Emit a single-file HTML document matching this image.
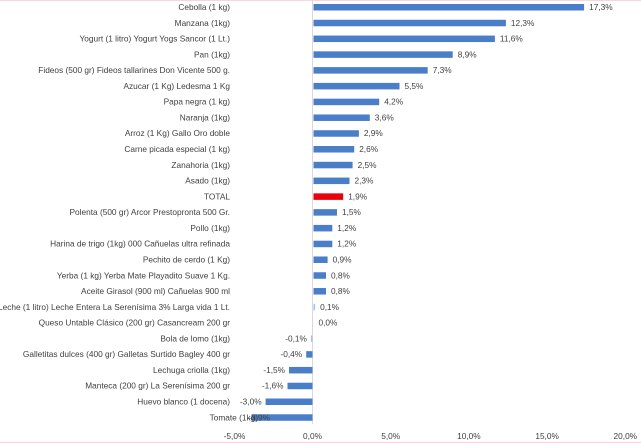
<!DOCTYPE html>
<html><head><meta charset="utf-8"><style>
html,body{margin:0;padding:0;background:#fff;}
svg{display:block;}
text{font-family:"Liberation Sans",sans-serif;font-size:8.3px;fill:#404040;}
</style></head><body>
<svg width="641" height="443" viewBox="0 0 641 443" xmlns="http://www.w3.org/2000/svg">
<line x1="0" y1="0.5" x2="641" y2="0.5" stroke="#f6d6dc" stroke-width="1"/>
<line x1="0" y1="442.5" x2="641" y2="442.5" stroke="#f6d6dc" stroke-width="1"/>
<line x1="312.5" y1="0" x2="312.5" y2="424" stroke="#d9d9d9" stroke-width="1"/>
<g fill="#4a7ec9">
<rect x="313.5" y="4" width="270.6" height="6.5"/>
<rect x="313.5" y="19.78" width="192.4" height="6.5"/>
<rect x="313.5" y="35.56" width="181.4" height="6.5"/>
<rect x="313.5" y="51.34" width="139.2" height="6.5"/>
<rect x="313.5" y="67.12" width="114.2" height="6.5"/>
<rect x="313.5" y="82.9" width="86.0" height="6.5"/>
<rect x="313.5" y="98.68" width="65.7" height="6.5"/>
<rect x="313.5" y="114.46" width="56.3" height="6.5"/>
<rect x="313.5" y="130.24" width="45.4" height="6.5"/>
<rect x="313.5" y="146.02" width="40.7" height="6.5"/>
<rect x="313.5" y="161.8" width="39.1" height="6.5"/>
<rect x="313.5" y="177.58" width="36.0" height="6.5"/>
<rect x="313.5" y="193.36" width="29.7" height="6.5" fill="#e8000b"/>
<rect x="313.5" y="209.14" width="23.5" height="6.5"/>
<rect x="313.5" y="224.92" width="18.8" height="6.5"/>
<rect x="313.5" y="240.7" width="18.8" height="6.5"/>
<rect x="313.5" y="256.48" width="14.1" height="6.5"/>
<rect x="313.5" y="272.26" width="12.5" height="6.5"/>
<rect x="313.5" y="288.04" width="12.5" height="6.5"/>
<rect x="313.5" y="303.82" width="1.6" height="6.5" fill="#a9c1e6"/>
<rect x="310.9" y="335.38" width="1.6" height="6.5" fill="#a9c1e6"/>
<rect x="306.2" y="351.16" width="6.3" height="6.5"/>
<rect x="289" y="366.94" width="23.5" height="6.5"/>
<rect x="287.5" y="382.72" width="25.0" height="6.5"/>
<rect x="265.6" y="398.5" width="46.9" height="6.5"/>
<rect x="251.5" y="414.28" width="61.0" height="6.5"/>
</g>
<g text-anchor="end">
<text x="230" y="10">Cebolla (1 kg)</text>
<text x="230" y="25.78">Manzana (1kg)</text>
<text x="230" y="41.56">Yogurt (1 litro) Yogurt Yogs Sancor (1 Lt.)</text>
<text x="230" y="57.34">Pan (1kg)</text>
<text x="230" y="73.12">Fideos (500 gr) Fideos tallarines Don Vicente 500 g.</text>
<text x="230" y="88.9">Azucar (1 Kg) Ledesma 1 Kg</text>
<text x="230" y="104.68">Papa negra (1 kg)</text>
<text x="230" y="120.46">Naranja (1kg)</text>
<text x="230" y="136.24">Arroz (1 Kg) Gallo Oro doble</text>
<text x="230" y="152.02">Carne picada especial (1 kg)</text>
<text x="230" y="167.8">Zanahoria (1kg)</text>
<text x="230" y="183.58">Asado (1kg)</text>
<text x="230" y="199.36">TOTAL</text>
<text x="230" y="215.14">Polenta (500 gr) Arcor Prestopronta 500 Gr.</text>
<text x="230" y="230.92">Pollo (1kg)</text>
<text x="230" y="246.7">Harina de trigo (1kg) 000 Cañuelas ultra refinada</text>
<text x="230" y="262.48">Pechito de cerdo (1 Kg)</text>
<text x="230" y="278.26">Yerba (1 kg) Yerba Mate Playadito Suave 1 Kg.</text>
<text x="230" y="294.04">Aceite Girasol (900 ml) Cañuelas 900 ml</text>
<text x="230" y="309.82">Leche (1 litro) Leche Entera La Serenísima 3% Larga vida 1 Lt.</text>
<text x="230" y="325.6">Queso Untable Clásico (200 gr) Casancream 200 gr</text>
<text x="230" y="341.38">Bola de lomo (1kg)</text>
<text x="230" y="357.16">Galletitas dulces (400 gr) Galletas Surtido Bagley 400 gr</text>
<text x="230" y="372.94">Lechuga criolla (1kg)</text>
<text x="230" y="388.72">Manteca (200 gr) La Serenísima 200 gr</text>
<text x="230" y="404.5">Huevo blanco (1 docena)</text>
<text x="258" y="420.28">Tomate (1kg)</text>
<text x="306.9" y="341.38">-0,1%</text>
<text x="302.2" y="357.16">-0,4%</text>
<text x="285" y="372.94">-1,5%</text>
<text x="283.5" y="388.72">-1,6%</text>
<text x="261.6" y="404.5">-3,0%</text>
<text x="270" y="420.28">-3,9%</text>
</g>
<g>
<text x="589.1" y="10">17,3%</text>
<text x="510.9" y="25.78">12,3%</text>
<text x="499.9" y="41.56">11,6%</text>
<text x="457.7" y="57.34">8,9%</text>
<text x="432.7" y="73.12">7,3%</text>
<text x="404.5" y="88.9">5,5%</text>
<text x="384.2" y="104.68">4,2%</text>
<text x="374.8" y="120.46">3,6%</text>
<text x="363.9" y="136.24">2,9%</text>
<text x="359.2" y="152.02">2,6%</text>
<text x="357.6" y="167.8">2,5%</text>
<text x="354.5" y="183.58">2,3%</text>
<text x="348.2" y="199.36">1,9%</text>
<text x="342" y="215.14">1,5%</text>
<text x="337.3" y="230.92">1,2%</text>
<text x="337.3" y="246.7">1,2%</text>
<text x="332.6" y="262.48">0,9%</text>
<text x="331" y="278.26">0,8%</text>
<text x="331" y="294.04">0,8%</text>
<text x="320.1" y="309.82">0,1%</text>
<text x="318.5" y="325.6">0,0%</text>
</g>
<g text-anchor="middle">
<text x="234.5" y="439">-5,0%</text>
<text x="312.5" y="439">0,0%</text>
<text x="390.7" y="439">5,0%</text>
<text x="468.9" y="439">10,0%</text>
<text x="547.1" y="439">15,0%</text>
<text x="625.3" y="439">20,0%</text>
</g>
</svg>
</body></html>
